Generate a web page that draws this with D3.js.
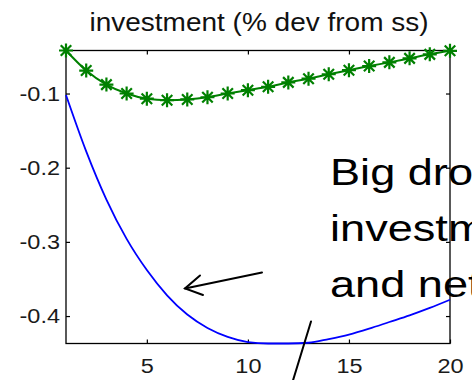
<!DOCTYPE html>
<html>
<head>
<meta charset="utf-8">
<script src="https://cdn.jsdelivr.net/npm/d3@7"></script>
<style>
  html, body { margin: 0; padding: 0; background: #fff; }
  svg { display: block; font-family: "Liberation Sans", Arial, sans-serif; }
</style>
</head>
<body>
<svg id="chart" width="472" height="380"></svg>
<script>
// Quarters after the shock
const periods = d3.range(1, 21);
// Investment response, % deviation from steady state
const investmentBaseline = [-0.102, -0.178, -0.243, -0.296, -0.338, -0.372, -0.398, -0.416, -0.428, -0.435,
                            -0.437, -0.437, -0.436, -0.431, -0.425, -0.417, -0.408, -0.399, -0.389, -0.378];
const investmentAlt = [-0.042, -0.069, -0.088, -0.100, -0.107, -0.109, -0.108, -0.105, -0.100, -0.0955,
                       -0.091, -0.085, -0.080, -0.074, -0.0685, -0.063, -0.058, -0.0526, -0.0472, -0.0424];
const xTicks = [5, 10, 15, 20];
const yTicks = [-0.4, -0.3, -0.2, -0.1];
const titleText = "investment (% dev from ss)";
const noteLines = ["Big drop in", "investment", "and net"];

const svg = d3.select("#chart");
const box = { left: 66, right: 450, top: 50.5, bottom: 343.5 };
const stretch = 1.12; // glyphs are drawn slightly wide

const x = d3.scaleLinear().domain([1, 20]).range([box.left, box.right]);
const y = d3.scaleLinear()
  .domain(d3.extent(investmentBaseline.concat(investmentAlt)))
  .range([box.bottom, box.top]);

const tickFmt = d => d.toFixed(1);
const tickLen = 4;

function styleAxis(g) {
  g.select(".domain").remove();
  g.selectAll(".tick line").attr("stroke", "#000").attr("stroke-width", 1.2);
  g.selectAll(".tick text").attr("fill", "#1a1a1a").style("font-size", "21px")
    .style("font-family", "'Liberation Sans', Arial, sans-serif");
}

// Inward ticks on all four sides
svg.append("g").attr("transform", `translate(${box.left},0)`)
  .call(d3.axisLeft(y).tickValues(yTicks).tickFormat(tickFmt).tickSizeInner(-tickLen).tickSizeOuter(0).tickPadding(6))
  .call(styleAxis)
  .call(g => g.selectAll(".tick text").attr("transform", `scale(${stretch},1)`).attr("x", -6 / stretch));
svg.append("g").attr("transform", `translate(${box.right},0)`)
  .call(d3.axisRight(y).tickValues(yTicks).tickFormat("").tickSizeInner(-tickLen).tickSizeOuter(0))
  .call(styleAxis);
svg.append("g").attr("transform", `translate(0,${box.bottom})`)
  .call(d3.axisBottom(x).tickValues(xTicks).tickFormat(d3.format("d")).tickSizeInner(-tickLen).tickSizeOuter(0).tickPadding(15))
  .call(styleAxis)
  .call(g => g.selectAll(".tick text").attr("transform", `scale(${stretch},1)`));
svg.append("g").attr("transform", `translate(0,${box.top})`)
  .call(d3.axisTop(x).tickValues(xTicks).tickFormat("").tickSizeInner(-tickLen).tickSizeOuter(0))
  .call(styleAxis);

// Axes box
svg.append("rect")
  .attr("x", box.left).attr("y", box.top)
  .attr("width", box.right - box.left).attr("height", box.bottom - box.top)
  .attr("fill", "none").attr("stroke", "#000").attr("stroke-width", 1.3);

// Title
svg.append("text")
  .attr("transform", `translate(${(box.left + box.right) / 2 + 1},31) scale(${stretch},1)`)
  .attr("text-anchor", "middle")
  .style("font-size", "25px").attr("fill", "#111")
  .text(titleText);

const line = d3.line()
  .x((d, i) => x(periods[i]))
  .y(d => y(d))
  .curve(d3.curveMonotoneX);

// Baseline response (blue)
svg.append("path")
  .datum(investmentBaseline)
  .attr("d", line)
  .attr("fill", "none").attr("stroke", "#0000ff").attr("stroke-width", 1.8);

// Alternative response (green, asterisk markers)
svg.append("path")
  .datum(investmentAlt)
  .attr("d", line)
  .attr("fill", "none").attr("stroke", "#008000").attr("stroke-width", 2);

const r = 7, rd = r * 0.75;
const star = `M${-r},0L${r},0M0,${-r}L0,${r}M${-rd},${-rd}L${rd},${rd}M${-rd},${rd}L${rd},${-rd}`;
svg.append("g").selectAll("path")
  .data(investmentAlt)
  .join("path")
  .attr("transform", (d, i) => `translate(${x(periods[i])},${y(d)})`)
  .attr("d", star)
  .attr("fill", "none").attr("stroke", "#008000").attr("stroke-width", 2.2);

// Annotation text
svg.append("g").attr("transform", `translate(330,0) scale(1.22,1)`)
  .selectAll("text")
  .data(noteLines)
  .join("text")
  .attr("x", 0)
  .attr("y", (d, i) => 185 + i * 56)
  .style("font-size", "37px").attr("fill", "#000")
  .text(d => d);

// Arrow pointing at the blue curve
const ann = svg.append("g").attr("stroke", "#000").attr("stroke-width", 2).attr("fill", "none")
  .attr("stroke-linecap", "round");
ann.append("line").attr("x1", 262).attr("y1", 272.5).attr("x2", 185).attr("y2", 288.5);
ann.append("path").attr("d", "M200,275.5L185,288.5L203,295");
// Second pointer line toward the trough
ann.append("line").attr("x1", 311).attr("y1", 321.5).attr("x2", 292.5).attr("y2", 382);
</script>
</body>
</html>
